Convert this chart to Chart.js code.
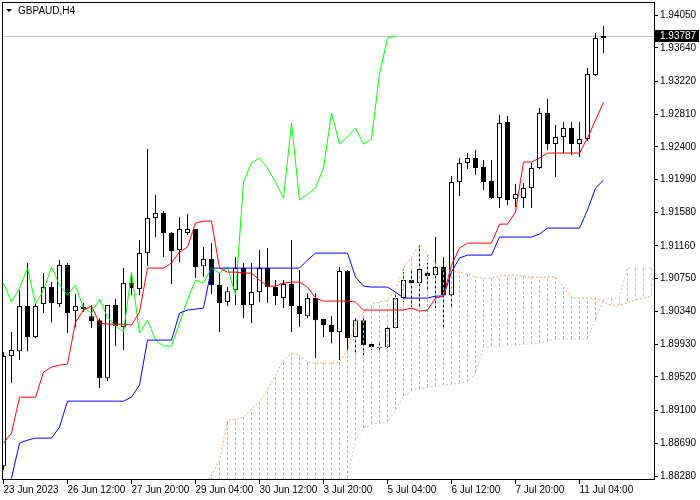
<!DOCTYPE html>
<html>
<head>
<meta charset="utf-8">
<title>GBPAUD H4</title>
<script src="https://cdn.jsdelivr.net/npm/chart.js@4/dist/chart.umd.min.js"></script>
<style>
  html, body { margin: 0; padding: 0; background: #fff; }
  #wrap { width: 700px; height: 500px; }
</style>
</head>
<body>
<div id="wrap"><canvas id="chart"></canvas></div>
<script>
// GBPAUD H4 candles with Ichimoku (tenkan / kijun / chikou / kumo)
const symbol = "GBPAUD,H4";
const lastPrice = 1.93787;

const timeLabels = ["23 Jun 2023", "26 Jun 12:00", "27 Jun 20:00", "29 Jun 04:00", "30 Jun 12:00",
  "3 Jul 20:00", "5 Jul 04:00", "6 Jul 12:00", "7 Jul 20:00", "11 Jul 04:00"];
const timeTickIdx = [0, 8, 16, 24, 32, 40, 48, 56, 64, 72];

const priceTicks = [1.88280, 1.88690, 1.89100, 1.89520, 1.89930, 1.90340, 1.90750, 1.91160,
  1.91580, 1.91990, 1.92400, 1.92810, 1.93220, 1.93640, 1.94050];

const opens = [
  1.88403, 1.89781, 1.89843, 1.90407, 1.90019, 1.90432, 1.90645, 1.90432, 1.90920, 1.90344,
  1.90394, 1.90281, 1.90231, 1.89505, 1.90419, 1.90144, 1.90695, 1.90620, 1.91070, 1.91508,
  1.91571, 1.91321, 1.91108, 1.91321, 1.91371, 1.90907, 1.90995, 1.90670, 1.90457, 1.90607,
  1.90882, 1.90419, 1.90582, 1.90882, 1.90645, 1.90507, 1.90682, 1.90407, 1.90281, 1.90507,
  1.90244, 1.90169, 1.90081, 1.90845, 1.90019, 1.90231, 1.89931, 1.89893, 1.89893, 1.90131,
  1.90507, 1.90732, 1.90695, 1.90820, 1.90795, 1.90895, 1.90544, 1.91959, 1.92197, 1.92260,
  1.92147, 1.91972, 1.91759, 1.92710, 1.91746, 1.91759, 1.91884, 1.92134, 1.92823, 1.92435,
  1.92523, 1.92635, 1.92435, 1.92498, 1.93299, 1.93762];
const highs = [
  1.89831, 1.90081, 1.90607, 1.90945, 1.90432, 1.90820, 1.90707, 1.90983, 1.90945, 1.90557,
  1.90444, 1.90419, 1.90256, 1.90419, 1.90494, 1.90882, 1.90832, 1.91233, 1.92372, 1.91796,
  1.91596, 1.91333, 1.91521, 1.91559, 1.91371, 1.91145, 1.91195, 1.90820, 1.90645, 1.91020,
  1.90945, 1.90945, 1.91108, 1.91133, 1.90732, 1.90732, 1.91233, 1.90857, 1.90569, 1.90569,
  1.90244, 1.90281, 1.90895, 1.90857, 1.90256, 1.90256, 1.89956, 1.89943, 1.90169, 1.90544,
  1.90832, 1.90857, 1.91170, 1.90945, 1.91271, 1.91020, 1.92034, 1.92260, 1.92322, 1.92360,
  1.92235, 1.92235, 1.92798, 1.92785, 1.91934, 1.91947, 1.92197, 1.92886, 1.92998, 1.92673,
  1.92710, 1.92710, 1.92710, 1.93386, 1.93825, 1.93912];
const lows = [
  1.88353, 1.89443, 1.89731, 1.89843, 1.90006, 1.90319, 1.90206, 1.90394, 1.90069, 1.90144,
  1.90332, 1.90131, 1.89380, 1.89468, 1.89906, 1.89856, 1.90544, 1.90544, 1.90907, 1.91271,
  1.91020, 1.90682, 1.90958, 1.91296, 1.90757, 1.90770, 1.90557, 1.90081, 1.90407, 1.90419,
  1.90256, 1.90194, 1.90457, 1.90444, 1.90419, 1.90382, 1.90081, 1.90144, 1.90256, 1.89756,
  1.90019, 1.89943, 1.89731, 1.89818, 1.89793, 1.89793, 1.89856, 1.89818, 1.89881, 1.90106,
  1.90457, 1.90394, 1.90394, 1.90607, 1.90382, 1.90106, 1.90394, 1.91784, 1.92122, 1.92047,
  1.91859, 1.91746, 1.91634, 1.91671, 1.91646, 1.91634, 1.91634, 1.92122, 1.92360, 1.92022,
  1.92322, 1.92297, 1.92272, 1.92472, 1.93286, 1.93574];
const closes = [
  1.89781, 1.89856, 1.90407, 1.90019, 1.90407, 1.90645, 1.90444, 1.90920, 1.90319, 1.90407,
  1.90369, 1.90219, 1.89505, 1.90419, 1.90156, 1.90695, 1.90632, 1.91070, 1.91508, 1.91571,
  1.91321, 1.91095, 1.91371, 1.91371, 1.90895, 1.90995, 1.90670, 1.90444, 1.90594, 1.90882,
  1.90419, 1.90582, 1.90882, 1.90645, 1.90532, 1.90682, 1.90407, 1.90307, 1.90507, 1.90231,
  1.90169, 1.90081, 1.90845, 1.90006, 1.90231, 1.89918, 1.89893, 1.89881, 1.90131, 1.90507,
  1.90732, 1.90695, 1.90870, 1.90782, 1.90895, 1.90544, 1.91959, 1.92197, 1.92260, 1.92134,
  1.91959, 1.91759, 1.92698, 1.91734, 1.91809, 1.91884, 1.92134, 1.92823, 1.92435, 1.92523,
  1.92635, 1.92435, 1.92498, 1.93311, 1.93762, 1.93787];

const tenkan = [
  1.88691, 1.88817, 1.89267, 1.89267, 1.89267, 1.89580, 1.89643, 1.89668, 1.89681, 1.90206,
  1.90357, 1.90407, 1.90194, 1.90181, 1.90181, 1.90181, 1.90169, 1.90332, 1.90882, 1.90882,
  1.90882, 1.90945, 1.91083, 1.91145, 1.91446, 1.91471, 1.91471, 1.90882, 1.90832, 1.90832,
  1.90820, 1.90820, 1.90732, 1.90657, 1.90657, 1.90695, 1.90707, 1.90707, 1.90645, 1.90507,
  1.90469, 1.90469, 1.90469, 1.90469, 1.90457, 1.90357, 1.90357, 1.90357, 1.90357, 1.90357,
  1.90357, 1.90382, 1.90344, 1.90357, 1.90507, 1.90532, 1.90920, 1.91133, 1.91195, 1.91195,
  1.91195, 1.91195, 1.91433, 1.91433, 1.91584, 1.92210, 1.92210, 1.92260, 1.92322, 1.92322,
  1.92322, 1.92322, 1.92322, 1.92510, 1.92735, 1.92961];
const kijun = [
  1.88103, 1.88253, 1.88691, 1.88729, 1.88754, 1.88754, 1.88754, 1.88892, 1.89217, 1.89217,
  1.89217, 1.89217, 1.89217, 1.89217, 1.89217, 1.89217, 1.89267, 1.89418, 1.89981, 1.89981,
  1.89981, 1.89981, 1.90319, 1.90357, 1.90369, 1.90382, 1.90882, 1.90882, 1.90882, 1.90882,
  1.90882, 1.90882, 1.90882, 1.90882, 1.90882, 1.90882, 1.90882, 1.90882, 1.90983, 1.91070,
  1.91070, 1.91070, 1.91070, 1.91070, 1.90770, 1.90657, 1.90645, 1.90645, 1.90645, 1.90582,
  1.90507, 1.90507, 1.90507, 1.90507, 1.90532, 1.90532, 1.90832, 1.91008, 1.91045, 1.91045,
  1.91045, 1.91045, 1.91271, 1.91271, 1.91271, 1.91271, 1.91271, 1.91308, 1.91383, 1.91383,
  1.91383, 1.91383, 1.91383, 1.91609, 1.91884, 1.91984];
const chikou = [
  1.90695, 1.90457, 1.90632, 1.90882, 1.90432, 1.90607, 1.90895, 1.90670, 1.90544, 1.90670,
  1.90382, 1.90319, 1.90494, 1.90269, 1.90156, 1.90081, 1.90832, 1.90069, 1.90231, 1.89981,
  1.89906, 1.89906, 1.90194, 1.90482, 1.90732, 1.90695, 1.90882, 1.90820, 1.90895, 1.90544,
  1.91959, 1.92197, 1.92260, 1.92134, 1.91959, 1.91759, 1.92698, 1.91734, 1.91809, 1.91884,
  1.92134, 1.92823, 1.92435, 1.92523, 1.92635, 1.92435, 1.92498, 1.93311, 1.93762, 1.93787];
const senkouA = [
  null, null, null, null, null, null, null, null, null, null,
  null, null, null, null, null, null, null, null, null, null,
  null, null, null, null, null, 1.88103, 1.88291, 1.88479, 1.88979, 1.88992,
  1.89017, 1.89117, 1.89205, 1.89355, 1.89543, 1.89731, 1.89818, 1.89793, 1.89706, 1.89693,
  1.89693, 1.89693, 1.89706, 1.89856, 1.90206, 1.90332, 1.90432, 1.90457, 1.90482, 1.90607,
  1.90882, 1.91020, 1.91170, 1.91058, 1.90958, 1.90857, 1.90845, 1.90832, 1.90807, 1.90770,
  1.90757, 1.90757, 1.90782, 1.90795, 1.90795, 1.90782, 1.90770, 1.90770, 1.90770, 1.90770,
  1.90645, 1.90519, 1.90507, 1.90507, 1.90507, 1.90457, 1.90419, 1.90419, 1.90444, 1.90482,
  1.90507, 1.90532];
const senkouB = [
  null, null, null, null, null, null, null, null, null, null,
  null, null, null, null, null, null, null, null, null, null,
  null, null, null, null, null, 1.88103, 1.88103, 1.88103, 1.88103, 1.88103,
  1.88103, 1.88103, 1.88103, 1.88103, 1.88103, 1.88103, 1.88103, 1.88103, 1.88103, 1.88103,
  1.88103, 1.88103, 1.88103, 1.88253, 1.88729, 1.88879, 1.88929, 1.88942, 1.88954, 1.89105,
  1.89280, 1.89342, 1.89368, 1.89393, 1.89405, 1.89418, 1.89430, 1.89443, 1.89455, 1.89568,
  1.89893, 1.89906, 1.89906, 1.89918, 1.89918, 1.89931, 1.89931, 1.89943, 1.89968, 1.89994,
  1.89994, 1.89994, 1.89994, 1.89994, 1.90231, 1.90494, 1.90507, 1.90519, 1.90882, 1.90882,
  1.90882, 1.90882];

const FONT = "'Liberation Sans', Arial, sans-serif";
Chart.defaults.font.family = FONT;
Chart.defaults.font.size = 10;
Chart.defaults.color = "#000";

const KUMO_UP = "#f4a460";
const KUMO_DOWN = "#d8bfd8";

function points(arr) {
  return arr.map((v, i) => ({ x: i, y: v }));
}

const wicks = opens.map((o, i) => ({ x: i, y: [lows[i], highs[i]] }));
const bodies = opens.map((o, i) => ({ x: i, y: [o, closes[i]] }));
const bodyFill = opens.map((o, i) => (closes[i] >= o ? "#ffffff" : "#000000"));

const barBase = { grouped: false, borderSkipped: false, inflateAmount: 0, clip: 0 };
const lineBase = { type: "line", pointRadius: 0, borderWidth: 1, tension: 0, fill: false, clip: 0 };

// cloud hatching: one dashed vertical segment per bar between span A and span B
const kumoHatch = [];
senkouA.forEach((a, i) => {
  const b = senkouB[i];
  if (a === null || b === null || a === b) return;
  kumoHatch.push({
    ...lineBase,
    data: [{ x: i, y: b }, { x: i, y: a }],
    borderColor: a > b ? KUMO_UP : KUMO_DOWN,
    borderDash: [3, 2],
    order: 3,
  });
});

const mtFrame = {
  id: "mtFrame",
  beforeDatasetsDraw(chart) {
    const { ctx, chartArea: a, scales } = chart;
    const y = Math.round(scales.y.getPixelForValue(lastPrice)) + 0.5;
    ctx.save();
    ctx.strokeStyle = "#c0c0c0";
    ctx.lineWidth = 1;
    ctx.beginPath();
    ctx.moveTo(a.left, y);
    ctx.lineTo(a.right, y);
    ctx.stroke();
    ctx.restore();
  },
  afterDraw(chart) {
    const { ctx, chartArea: a, scales } = chart;
    ctx.save();
    ctx.strokeStyle = "#000";
    ctx.lineWidth = 1;
    ctx.strokeRect(a.left + 0.5, a.top + 0.5, a.right - a.left - 1, a.bottom - a.top - 1);

    // current price tag
    const y = Math.round(scales.y.getPixelForValue(lastPrice));
    ctx.fillStyle = "#000";
    ctx.fillRect(a.right, y - 6, 44, 12);
    ctx.fillStyle = "#fff";
    ctx.font = "10px " + FONT;
    ctx.textBaseline = "middle";
    ctx.fillText(lastPrice.toFixed(5), a.right + 5, y + 0.5);

    // symbol caption
    ctx.fillStyle = "#000";
    ctx.beginPath();
    ctx.moveTo(6, 9);
    ctx.lineTo(12, 9);
    ctx.lineTo(9, 12);
    ctx.closePath();
    ctx.fill();
    ctx.fillText(symbol, 18, 11);
    ctx.restore();
  },
};

new Chart(document.getElementById("chart"), {
  type: "bar",
  data: {
    datasets: [
      { ...lineBase, data: points(tenkan), borderColor: "#ff0000", order: 1 },
      { ...lineBase, data: points(kijun), borderColor: "#0000ff", order: 1 },
      { ...lineBase, data: points(chikou), borderColor: "#00ff00", order: 1 },
      { ...lineBase, data: points(senkouA), borderColor: KUMO_UP, borderDash: [2, 2], order: 2 },
      { ...lineBase, data: points(senkouB), borderColor: KUMO_DOWN, borderDash: [2, 2], order: 2 },
      ...kumoHatch,
      { ...barBase, data: bodies, barThickness: 5, borderWidth: 1, borderColor: "#000", backgroundColor: bodyFill, order: 4 },
      { ...barBase, data: wicks, barThickness: 1, borderWidth: 0, backgroundColor: "#000", order: 5 },
    ],
  },
  options: {
    responsive: true,
    maintainAspectRatio: false,
    animation: false,
    events: [],
    layout: { padding: { top: 2, left: 2, right: 0, bottom: 0 } },
    plugins: { legend: { display: false }, tooltip: { enabled: false } },
    scales: {
      x: {
        type: "linear",
        offset: false,
        min: -0.1875,
        max: 81.4375,
        bounds: "data",
        afterBuildTicks: (s) => { s.ticks = timeTickIdx.map((v) => ({ value: v })); },
        afterFit: (s) => { s.height = 20; s.paddingLeft = 0; s.paddingRight = 0; },
        ticks: {
          autoSkip: false,
          maxRotation: 0,
          align: "start",
          padding: 0,
          callback: (v, i) => timeLabels[i],
        },
        grid: { offset: false, drawOnChartArea: false, drawTicks: true, tickLength: 4, tickColor: "#000" },
        border: { display: false },
      },
      y: {
        position: "right",
        min: 1.88230,
        max: 1.94213,
        bounds: "data",
        afterBuildTicks: (s) => { s.ticks = priceTicks.map((v) => ({ value: v })); },
        afterFit: (s) => { s.width = 45; s.paddingTop = 0; s.paddingBottom = 0; },
        ticks: { autoSkip: false, padding: 2, callback: (v) => v.toFixed(5) },
        grid: { drawOnChartArea: false, drawTicks: true, tickLength: 3, tickColor: "#000" },
        border: { display: false },
      },
    },
  },
  plugins: [mtFrame],
});
</script>
</body>
</html>
